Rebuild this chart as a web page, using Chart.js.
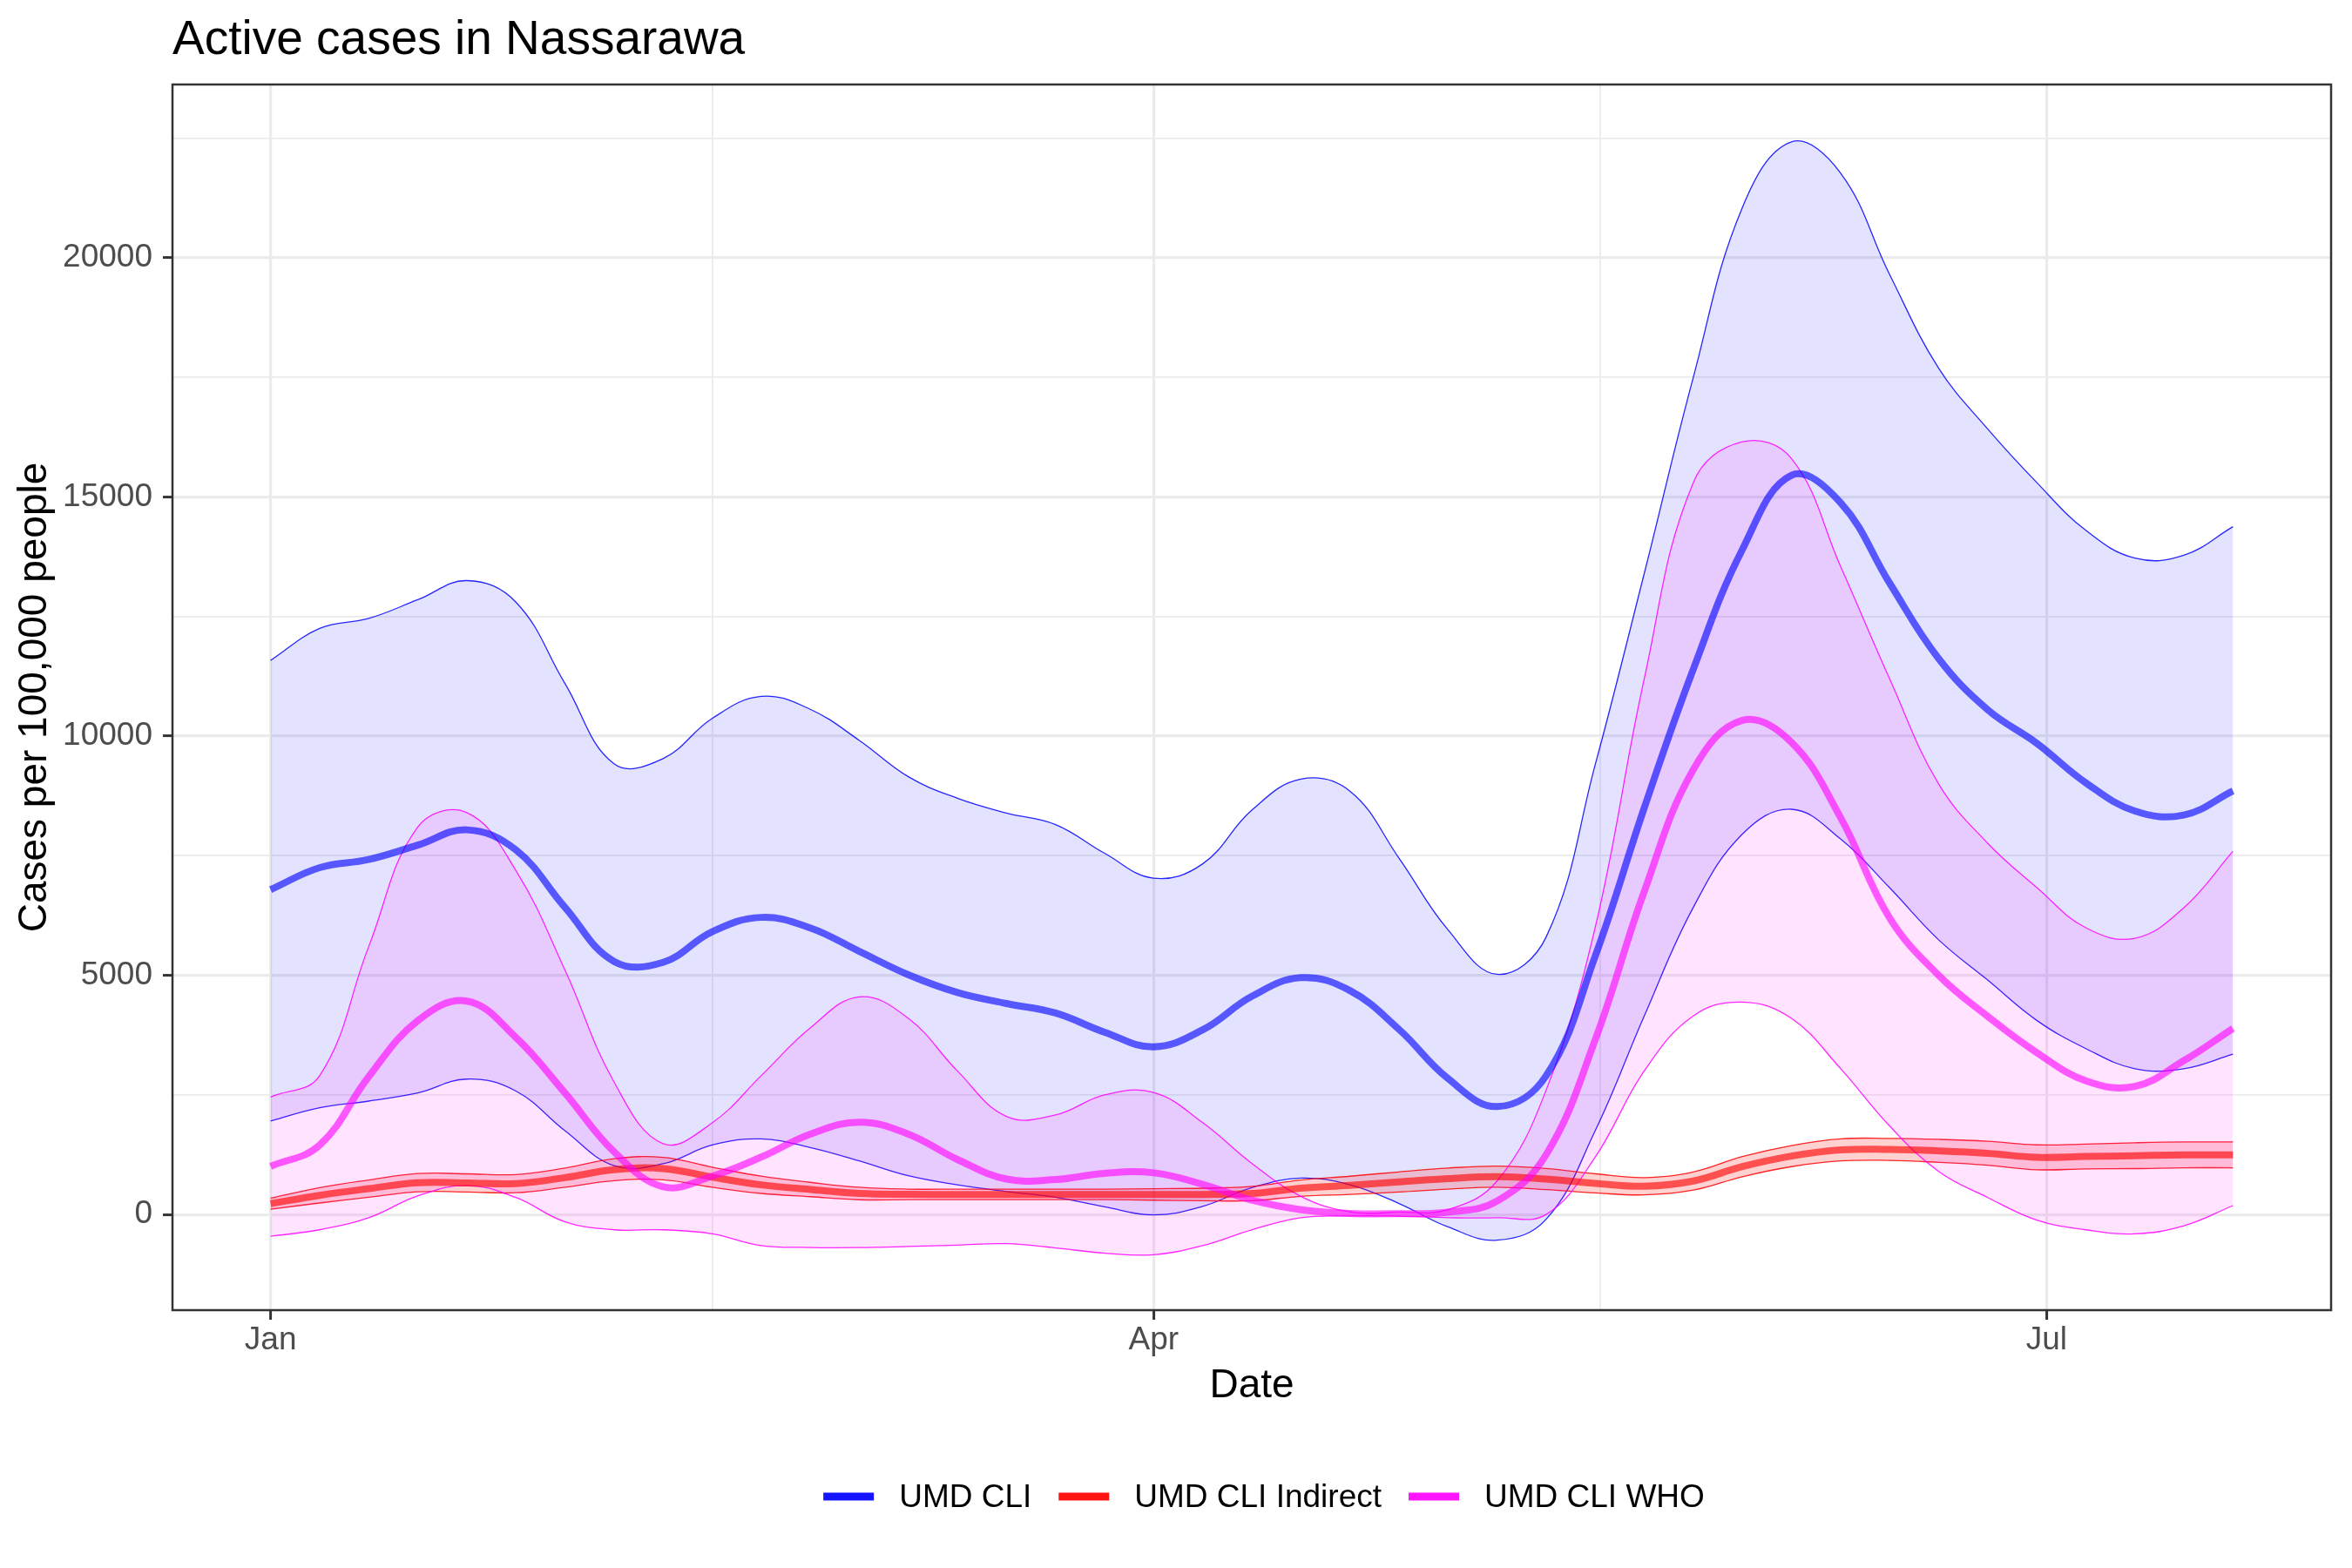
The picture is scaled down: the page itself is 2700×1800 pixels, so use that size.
<!DOCTYPE html>
<html><head><meta charset="utf-8">
<script src="https://cdn.jsdelivr.net/npm/chart.js@4.4.1/dist/chart.umd.min.js"></script>
<style>html,body{margin:0;padding:0;background:#fff;}canvas{display:block;}</style>
</head><body>
<canvas id="c" width="2700" height="1800" style="width:2700px;height:1800px"></canvas>
<script>
// ---- data (days since 2021-01-01) ----
const days = [0,5,10,15,20,25,30,35,40,45,50,55,60,65,70,75,80,85,90,95,100,105,110,115,120,125,130,135,140,145,150,155,160,165,170,175,180,185,190,195,200];
const cliMean = [6790,7250,7420,7720,8040,7620,6420,5290,5270,5909,6210,5990,5500,5010,4640,4410,4210,3810,3505,3860,4560,4950,4680,3870,2840,2255,2900,5400,8500,11400,13900,15450,14880,13200,11620,10550,9850,9024,8434,8350,8855];
const cliHi = [11582,12250,12460,12850,13250,12800,11100,9420,9530,10368,10830,10560,9910,9150,8700,8390,8150,7550,7030,7330,8450,9100,8850,7450,5950,5020,5800,9400,13400,17500,21050,22420,21770,19650,17690,16420,15300,14300,13720,13780,14377];
const cliLo = [1953,2230,2370,2540,2830,2580,1750,1020,1060,1451,1580,1400,1120,810,620,480,360,160,-10,170,560,760,620,230,-260,-537,-100,1750,4150,6420,7950,8470,7850,6830,5741,4899,4057,3468,3047,3047,3350];
const indMean = [226,400,540,665,660,645,770,935,960,780,620,522,438,420,419,419,419,419,419,419,438,550,610,680,750,790,740,650,590,700,1000,1220,1350,1360,1330,1279,1195,1212,1229,1246,1246];
const indLo = [111,240,360,475,470,455,570,705,725,570,440,372,308,310,309,309,309,309,299,289,288,380,420,470,530,570,520,450,410,510,790,1000,1120,1130,1090,1029,935,952,959,976,976];
const indHi = [341,560,720,855,850,835,970,1165,1195,990,800,672,568,530,529,529,529,529,539,549,588,720,800,890,970,1010,960,850,770,890,1210,1440,1580,1590,1570,1529,1455,1472,1499,1516,1516];
const whoMean = [1005,1450,2880,4050,4460,3700,2540,1310,580,800,1200,1680,1930,1680,1150,740,730,860,870,630,300,100,22,17,50,280,1250,3650,6750,9300,10330,9870,8300,6200,5000,4141,3384,2795,2677,3216,3889];
const whoHi = [2454,2900,5600,8100,8400,7190,5110,2770,1480,1915,2900,3900,4550,4100,3000,2050,2080,2500,2550,1920,1070,380,55,50,101,700,2600,6000,11200,15300,16150,15800,13550,11200,9000,7761,6835,5993,5774,6414,7593];
const whoLo = [-455,-320,-67,387,606,354,-152,-320,-320,-404,-650,-690,-692,-670,-640,-610,-700,-808,-840,-650,-322,-67,-30,-34,-67,-67,0,1200,3000,4150,4440,4100,3050,1850,900,354,-118,-320,-404,-236,185];
const seriesNames = ['UMD CLI','UMD CLI Indirect','UMD CLI WHO'];
const xMajorDays = [0,90,181];
const xMajorLabels = ['Jan','Apr','Jul'];
const xMinorDays = [45,135.5];
const yMajor = [0,5000,10000,15000,20000];
const yMinor = [2500,7500,12500,17500,22500];

// ---- layout ----
const FONT = '"Liberation Sans", Arial, sans-serif';
const P = {left:198, right:2676, top:97, bottom:1504};
const pts = arr => days.map((d,i)=>({x:d, y:arr[i]}));
const base = {pointRadius:0, pointHoverRadius:0, tension:0.4};
const ribbonLine = (arr, col, order) => Object.assign({}, base, {data:pts(arr), borderColor:col, borderWidth:1.3, fill:false, order});
const ribbonTop = (arr, col, bg, order) => Object.assign({}, base, {data:pts(arr), borderColor:col, borderWidth:1.3, fill:'-1', backgroundColor:bg, order});
const mainLine = (arr, col, order) => Object.assign({}, base, {data:pts(arr), borderColor:col, borderWidth:8, fill:false, order, borderCapStyle:'butt'});

const legendColors = ['rgba(0,0,255,0.92)','rgba(255,0,0,0.92)','rgba(255,0,255,0.92)'];

const overlay = {
  id:'overlay',
  afterDraw(chart){
    const c = chart.ctx, a = chart.chartArea;
    c.save();
    c.strokeStyle = '#333333'; c.lineWidth = 2.5;
    c.strokeRect(a.left, a.top, a.right-a.left, a.bottom-a.top);
    c.fillStyle = '#000'; c.textBaseline = 'alphabetic';
    c.font = '55px ' + FONT; c.textAlign = 'left';
    c.fillText('Active cases in Nassarawa', a.left, 62);
    c.font = '46px ' + FONT; c.textAlign = 'center';
    c.fillText('Date', (a.left+a.right)/2, 1604);
    c.save(); c.translate(53, (a.top+a.bottom)/2); c.rotate(-Math.PI/2);
    c.fillText('Cases per 100,000 people', 0, 0); c.restore();
    c.font = '37px ' + FONT; c.textAlign = 'left';
    const keyW = 58, gap1 = 29, gap2 = 31;
    const widths = seriesNames.map(s => c.measureText(s).width);
    let total = 0; widths.forEach((w,i)=>{ total += keyW + gap1 + w + (i<widths.length-1?gap2:0); });
    let x = 1451 - total/2;
    seriesNames.forEach((s,i)=>{
      c.strokeStyle = legendColors[i]; c.lineWidth = 9; c.lineCap = 'butt';
      c.beginPath(); c.moveTo(x, 1718); c.lineTo(x+keyW, 1718); c.stroke();
      c.fillStyle = '#000';
      c.fillText(s, x+keyW+gap1, 1730);
      x += keyW + gap1 + widths[i] + gap2;
    });
    c.restore();
  }
};

new Chart(document.getElementById('c'), {
  type:'line',
  data:{datasets:[
    ribbonLine(cliLo, 'rgba(0,0,255,0.85)', 100),
    ribbonTop(cliHi, 'rgba(0,0,255,0.85)', 'rgba(0,0,255,0.11)', 99),
    ribbonLine(indLo, 'rgba(255,0,0,0.85)', 98),
    ribbonTop(indHi, 'rgba(255,0,0,0.85)', 'rgba(255,0,0,0.18)', 97),
    ribbonLine(whoLo, 'rgba(255,0,255,0.85)', 96),
    ribbonTop(whoHi, 'rgba(255,0,255,0.85)', 'rgba(255,0,255,0.11)', 95),
    mainLine(cliMean, 'rgba(0,0,255,0.62)', 3),
    mainLine(indMean, 'rgba(255,0,0,0.62)', 2),
    mainLine(whoMean, 'rgba(255,0,255,0.62)', 1)
  ]},
  options:{
    responsive:false, animation:false, devicePixelRatio:1,
    layout:{padding:{left:0, right:2700-P.right, top:P.top, bottom:0}},
    plugins:{legend:{display:false}, tooltip:{enabled:false}, title:{display:false}},
    scales:{
      x:{type:'linear', min:-10, max:210,
        afterBuildTicks(s){ s.ticks = xMajorDays.concat(xMinorDays).sort((a,b)=>a-b).map(v=>({value:v})); },
        afterFit(s){ s.height = 1800 - P.bottom; },
        ticks:{autoSkip:false, maxRotation:0, padding:2, color:'#4d4d4d', font:{family:FONT, size:37},
          callback(v){ const i = xMajorDays.indexOf(v); return i>=0 ? xMajorLabels[i] : ''; }},
        grid:{color:'#ebebeb', lineWidth:ctx => xMajorDays.includes(ctx.tick && ctx.tick.value) ? 3.2 : 1.8,
          tickColor:ctx => xMajorDays.includes(ctx.tick && ctx.tick.value) ? '#333333' : 'rgba(0,0,0,0)',
          tickLength:11, tickWidth:3, drawTicks:true},
        border:{display:false}
      },
      y:{type:'linear', min:-2000, max:23620,
        afterBuildTicks(s){ s.ticks = yMajor.concat(yMinor).sort((a,b)=>a-b).map(v=>({value:v})); },
        afterFit(s){ s.width = P.left; },
        ticks:{autoSkip:false, padding:12, color:'#4d4d4d', font:{family:FONT, size:37},
          callback(v){ return yMajor.includes(v) ? String(v) : ''; }},
        grid:{color:'#ebebeb', lineWidth:ctx => yMajor.includes(ctx.tick && ctx.tick.value) ? 3.2 : 1.8,
          tickColor:ctx => yMajor.includes(ctx.tick && ctx.tick.value) ? '#333333' : 'rgba(0,0,0,0)',
          tickLength:11, tickWidth:3, drawTicks:true},
        border:{display:false}
      }
    }
  },
  plugins:[overlay]
});
</script>
</body></html>
